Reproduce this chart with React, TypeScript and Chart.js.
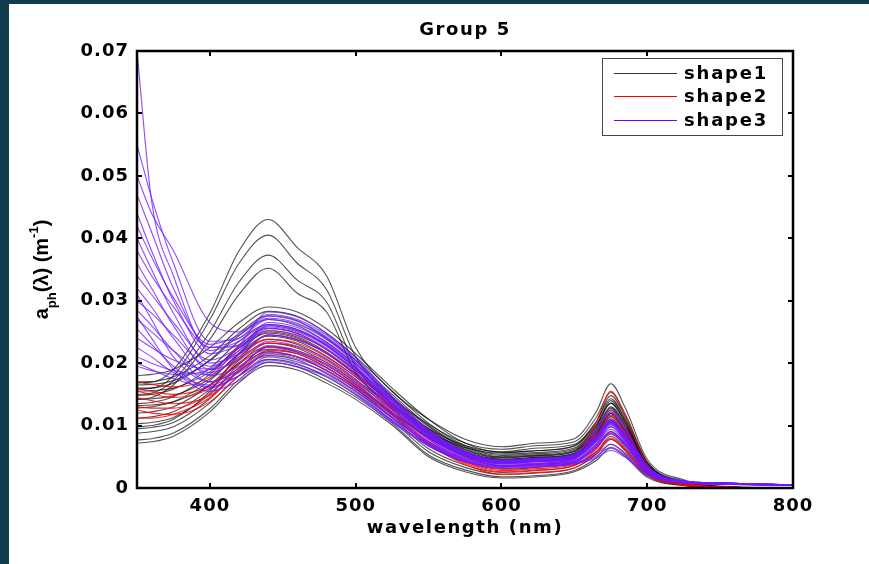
import React, { useEffect, useRef } from 'react';
import { Chart, registerables } from 'chart.js';

Chart.register(...registerables);

// wavelength grid (nm)
const wavelengths = [350, 360, 375, 400, 420, 440, 460, 480, 500, 525, 550, 575, 600, 625, 650, 665, 675, 685, 700, 725, 750, 800];

// shape1 (black) spectra
const shape1Curves: number[][] = [
  [0.017, 0.017, 0.019, 0.028, 0.038, 0.043, 0.0385, 0.034, 0.0225, 0.0155, 0.011, 0.0078, 0.0066, 0.0072, 0.0079, 0.0122, 0.0167, 0.0128, 0.0046, 0.0013, 0.0003, 0],
  [0.016, 0.016, 0.018, 0.027, 0.036, 0.0405, 0.036, 0.0318, 0.021, 0.0145, 0.0102, 0.0072, 0.0062, 0.0068, 0.0074, 0.0113, 0.0153, 0.0118, 0.0042, 0.0011, 0.0002, 0],
  [0.015, 0.0152, 0.0172, 0.025, 0.033, 0.0373, 0.0333, 0.0298, 0.0195, 0.0135, 0.0095, 0.0068, 0.0058, 0.0064, 0.007, 0.0106, 0.0143, 0.011, 0.0039, 0.001, 0.0002, 0],
  [0.0142, 0.0145, 0.0165, 0.0238, 0.031, 0.0352, 0.0312, 0.0282, 0.0185, 0.013, 0.009, 0.0065, 0.0056, 0.006, 0.0067, 0.0101, 0.0136, 0.0104, 0.0037, 0.0009, 0.0002, 0],
  [0.018, 0.0182, 0.019, 0.0225, 0.0265, 0.029, 0.0282, 0.0255, 0.0215, 0.016, 0.011, 0.0072, 0.0057, 0.006, 0.0068, 0.0105, 0.0148, 0.0114, 0.0041, 0.0009, 0.0002, 0],
  [0.0168, 0.017, 0.0178, 0.0212, 0.0255, 0.0283, 0.0275, 0.0248, 0.021, 0.0155, 0.0104, 0.0068, 0.0054, 0.0057, 0.0064, 0.0099, 0.014, 0.0108, 0.0039, 0.0008, 0.0002, 0],
  [0.0158, 0.016, 0.0168, 0.0205, 0.0248, 0.0276, 0.0268, 0.024, 0.0204, 0.015, 0.01, 0.0066, 0.0052, 0.0055, 0.0062, 0.0097, 0.0136, 0.0105, 0.0038, 0.0008, 0.0002, 0],
  [0.0165, 0.0166, 0.0172, 0.0204, 0.0244, 0.027, 0.026, 0.0234, 0.0198, 0.0146, 0.0098, 0.0064, 0.005, 0.0053, 0.006, 0.0094, 0.013, 0.0101, 0.0036, 0.0008, 0.0002, 0],
  [0.0148, 0.015, 0.0158, 0.0192, 0.0235, 0.0262, 0.0254, 0.0228, 0.0192, 0.0143, 0.0095, 0.0062, 0.0049, 0.0052, 0.0059, 0.0092, 0.0128, 0.0099, 0.0036, 0.0008, 0.0002, 0],
  [0.0135, 0.0137, 0.0146, 0.0182, 0.0228, 0.0256, 0.0248, 0.0222, 0.0188, 0.014, 0.0093, 0.0061, 0.0048, 0.0051, 0.0058, 0.009, 0.0125, 0.0097, 0.0035, 0.0007, 0.0001, 0],
  [0.0155, 0.0156, 0.016, 0.0186, 0.0224, 0.0248, 0.024, 0.0216, 0.0182, 0.0135, 0.009, 0.0059, 0.0046, 0.0049, 0.0056, 0.0087, 0.012, 0.0093, 0.0034, 0.0007, 0.0001, 0],
  [0.0128, 0.013, 0.0138, 0.0172, 0.0216, 0.0243, 0.0235, 0.0211, 0.0178, 0.0132, 0.0088, 0.0057, 0.0045, 0.0048, 0.0054, 0.0084, 0.0117, 0.0091, 0.0033, 0.0007, 0.0001, 0],
  [0.0142, 0.0143, 0.0148, 0.0175, 0.0214, 0.0238, 0.023, 0.0206, 0.0174, 0.0129, 0.0086, 0.0056, 0.0044, 0.0047, 0.0053, 0.0082, 0.0114, 0.0089, 0.0032, 0.0007, 0.0001, 0],
  [0.012, 0.0122, 0.013, 0.0165, 0.0207, 0.0232, 0.0224, 0.0201, 0.017, 0.0126, 0.0083, 0.0054, 0.0043, 0.0045, 0.0052, 0.0081, 0.0111, 0.0086, 0.0031, 0.0006, 0.0001, 0],
  [0.0112, 0.0114, 0.0122, 0.0158, 0.0201, 0.0226, 0.0218, 0.0196, 0.0166, 0.0122, 0.0081, 0.0052, 0.0041, 0.0044, 0.005, 0.0078, 0.0108, 0.0084, 0.003, 0.0006, 0.0001, 0],
  [0.0132, 0.0133, 0.0138, 0.0164, 0.0199, 0.0222, 0.0215, 0.0193, 0.0163, 0.012, 0.008, 0.0051, 0.004, 0.0043, 0.0049, 0.0077, 0.0106, 0.0082, 0.003, 0.0006, 0.0001, 0],
  [0.0103, 0.0105, 0.0113, 0.015, 0.0193, 0.0218, 0.021, 0.0188, 0.0159, 0.0117, 0.0068, 0.0042, 0.003, 0.0033, 0.0041, 0.0064, 0.009, 0.007, 0.0025, 0.0006, 0.0001, 0],
  [0.0095, 0.0097, 0.0105, 0.0143, 0.0187, 0.0212, 0.0205, 0.0183, 0.0155, 0.0112, 0.0063, 0.0037, 0.0025, 0.0028, 0.0036, 0.0058, 0.0083, 0.0064, 0.0023, 0.0005, 0.0001, 0],
  [0.0088, 0.009, 0.0098, 0.0136, 0.018, 0.0206, 0.0199, 0.0178, 0.015, 0.0108, 0.0058, 0.0033, 0.0022, 0.0024, 0.0032, 0.0054, 0.0078, 0.006, 0.0021, 0.0005, 0.0001, 0],
  [0.0077, 0.0079, 0.0088, 0.0127, 0.0174, 0.0201, 0.0194, 0.0173, 0.0146, 0.0104, 0.0053, 0.0029, 0.0018, 0.002, 0.0028, 0.0048, 0.007, 0.0054, 0.0019, 0.0004, 0.0001, 0],
  [0.0072, 0.0074, 0.0083, 0.0122, 0.0169, 0.0196, 0.0189, 0.0168, 0.0142, 0.0101, 0.005, 0.0026, 0.0016, 0.0018, 0.0026, 0.0044, 0.0064, 0.005, 0.0017, 0.0004, 0.0001, 0],
  [0.0098, 0.01, 0.011, 0.0155, 0.0215, 0.025, 0.0242, 0.0218, 0.0184, 0.0136, 0.009, 0.0058, 0.0046, 0.0049, 0.0055, 0.0086, 0.0119, 0.0092, 0.0033, 0.0007, 0.0001, 0],
];

// shape2 (red) spectra
const shape2Curves: number[][] = [
  [0.017, 0.0166, 0.0162, 0.0178, 0.0225, 0.0252, 0.0245, 0.0222, 0.0188, 0.014, 0.0092, 0.0055, 0.004, 0.0043, 0.0052, 0.0105, 0.0155, 0.0115, 0.0038, 0.0008, 0.0002, 0],
  [0.016, 0.0155, 0.015, 0.0165, 0.021, 0.0238, 0.0232, 0.021, 0.0178, 0.013, 0.0085, 0.005, 0.0035, 0.0038, 0.0046, 0.0088, 0.0122, 0.0093, 0.0031, 0.0007, 0.0002, 0],
  [0.013, 0.0128, 0.0128, 0.0152, 0.0198, 0.0232, 0.0226, 0.0204, 0.0172, 0.0125, 0.0078, 0.0045, 0.0031, 0.0034, 0.0042, 0.007, 0.0098, 0.0075, 0.0026, 0.0006, 0.0001, 0],
  [0.0112, 0.0112, 0.0118, 0.0145, 0.019, 0.0226, 0.022, 0.0198, 0.0165, 0.012, 0.0074, 0.0042, 0.0028, 0.0031, 0.0038, 0.0058, 0.008, 0.0062, 0.0022, 0.0005, 0.0001, 0],
  [0.0145, 0.014, 0.0135, 0.0148, 0.0188, 0.022, 0.0215, 0.0193, 0.0162, 0.0118, 0.0072, 0.004, 0.0026, 0.0029, 0.0036, 0.0062, 0.0088, 0.0068, 0.0024, 0.0005, 0.0001, 0],
  [0.0125, 0.012, 0.0118, 0.0138, 0.018, 0.0215, 0.021, 0.0188, 0.0158, 0.0114, 0.007, 0.0038, 0.0022, 0.0025, 0.0032, 0.0055, 0.0078, 0.006, 0.0021, 0.0005, 0.0001, 0],
  [0.0155, 0.015, 0.0145, 0.016, 0.0205, 0.0245, 0.0238, 0.0215, 0.0182, 0.0134, 0.0088, 0.0052, 0.0036, 0.0039, 0.0048, 0.0082, 0.0115, 0.0088, 0.003, 0.0007, 0.0002, 0],
];

// shape3 (purple) spectra
const shape3Curves: number[][] = [
  [0.07, 0.046, 0.034, 0.022, 0.0235, 0.0262, 0.0254, 0.0231, 0.0194, 0.0136, 0.0086, 0.0055, 0.0042, 0.0045, 0.005, 0.0079, 0.0105, 0.0081, 0.0031, 0.001, 0.0008, 0.0005],
  [0.055, 0.0465, 0.036, 0.0235, 0.024, 0.027, 0.0262, 0.0238, 0.02, 0.014, 0.0089, 0.0057, 0.0043, 0.0046, 0.0051, 0.0081, 0.0108, 0.0084, 0.0032, 0.0011, 0.0008, 0.0005],
  [0.05, 0.044, 0.038, 0.0265, 0.025, 0.0275, 0.0267, 0.0242, 0.0204, 0.0143, 0.0091, 0.0058, 0.0044, 0.0047, 0.0052, 0.0083, 0.011, 0.0085, 0.0033, 0.0011, 0.0008, 0.0005],
  [0.047, 0.041, 0.032, 0.0225, 0.0228, 0.0255, 0.0247, 0.0224, 0.0189, 0.0133, 0.0084, 0.0054, 0.0041, 0.0043, 0.0048, 0.0077, 0.0102, 0.0079, 0.0031, 0.001, 0.0008, 0.0005],
  [0.044, 0.038, 0.03, 0.0215, 0.023, 0.026, 0.0252, 0.0229, 0.0192, 0.0135, 0.0086, 0.0055, 0.0042, 0.0044, 0.0049, 0.0078, 0.0104, 0.0081, 0.0031, 0.001, 0.0008, 0.0005],
  [0.042, 0.037, 0.0305, 0.023, 0.0245, 0.0278, 0.027, 0.0245, 0.0206, 0.0145, 0.0092, 0.0058, 0.0044, 0.0047, 0.0053, 0.009, 0.012, 0.0092, 0.0035, 0.0011, 0.0008, 0.0005],
  [0.04, 0.035, 0.028, 0.02, 0.0215, 0.0245, 0.0237, 0.0216, 0.0181, 0.0127, 0.0081, 0.0051, 0.0039, 0.0042, 0.0047, 0.0074, 0.0098, 0.0076, 0.0029, 0.001, 0.0007, 0.0005],
  [0.038, 0.034, 0.029, 0.0225, 0.024, 0.0272, 0.0264, 0.0239, 0.0201, 0.0141, 0.009, 0.0057, 0.0044, 0.0046, 0.0052, 0.0082, 0.0109, 0.0084, 0.0033, 0.0011, 0.0008, 0.0005],
  [0.036, 0.032, 0.026, 0.019, 0.0205, 0.0235, 0.0227, 0.0207, 0.0174, 0.0122, 0.0078, 0.0049, 0.0038, 0.004, 0.0045, 0.0071, 0.0094, 0.0073, 0.0028, 0.0009, 0.0007, 0.0004],
  [0.034, 0.031, 0.0265, 0.0205, 0.0225, 0.0258, 0.025, 0.0227, 0.0191, 0.0134, 0.0085, 0.0054, 0.0041, 0.0044, 0.0049, 0.0077, 0.0103, 0.008, 0.0031, 0.001, 0.0008, 0.0005],
  [0.032, 0.029, 0.024, 0.018, 0.0195, 0.0225, 0.0217, 0.0198, 0.0167, 0.0117, 0.0074, 0.0047, 0.0036, 0.0038, 0.0043, 0.0068, 0.009, 0.007, 0.0027, 0.0009, 0.0007, 0.0004],
  [0.03, 0.028, 0.0245, 0.0195, 0.022, 0.0252, 0.0244, 0.0222, 0.0186, 0.0131, 0.0083, 0.0053, 0.004, 0.0043, 0.0048, 0.0076, 0.0101, 0.0078, 0.003, 0.001, 0.0008, 0.0005],
  [0.0285, 0.026, 0.022, 0.017, 0.0188, 0.0218, 0.021, 0.0192, 0.0161, 0.0113, 0.0072, 0.0046, 0.0035, 0.0037, 0.0041, 0.0065, 0.0087, 0.0068, 0.0026, 0.0009, 0.0007, 0.0004],
  [0.027, 0.025, 0.022, 0.0185, 0.021, 0.0245, 0.0237, 0.0216, 0.0181, 0.0127, 0.0081, 0.0051, 0.0039, 0.0042, 0.0047, 0.0074, 0.0098, 0.0076, 0.0029, 0.001, 0.0007, 0.0005],
  [0.0255, 0.023, 0.0195, 0.016, 0.018, 0.021, 0.0202, 0.0185, 0.0155, 0.0109, 0.0069, 0.0044, 0.0034, 0.0036, 0.004, 0.0054, 0.007, 0.0056, 0.0023, 0.0008, 0.0006, 0.0004],
  [0.024, 0.0225, 0.0205, 0.019, 0.022, 0.0265, 0.0257, 0.0233, 0.0196, 0.0138, 0.0087, 0.0056, 0.0042, 0.0045, 0.005, 0.008, 0.0106, 0.0082, 0.0032, 0.0011, 0.0008, 0.0005],
  [0.0225, 0.021, 0.0185, 0.0165, 0.0185, 0.0215, 0.0207, 0.0189, 0.0159, 0.0112, 0.0071, 0.0045, 0.0034, 0.0037, 0.0041, 0.0065, 0.0086, 0.0067, 0.0026, 0.0009, 0.0007, 0.0004],
  [0.021, 0.02, 0.0188, 0.0182, 0.0215, 0.026, 0.0252, 0.0229, 0.0192, 0.0135, 0.0086, 0.0055, 0.0042, 0.0044, 0.0049, 0.0078, 0.0104, 0.0081, 0.0031, 0.001, 0.0008, 0.0005],
  [0.02, 0.019, 0.0175, 0.0162, 0.018, 0.0205, 0.0197, 0.018, 0.0152, 0.0107, 0.0068, 0.0043, 0.0033, 0.0035, 0.0039, 0.0051, 0.0065, 0.0052, 0.0022, 0.0008, 0.0006, 0.0004],
  [0.0275, 0.024, 0.019, 0.0155, 0.0172, 0.0202, 0.0194, 0.0178, 0.0149, 0.0105, 0.0067, 0.0042, 0.0032, 0.0034, 0.0038, 0.0048, 0.006, 0.0049, 0.0021, 0.0008, 0.0006, 0.0004],
  [0.031, 0.027, 0.021, 0.017, 0.0192, 0.0228, 0.022, 0.0201, 0.0169, 0.0119, 0.0075, 0.0048, 0.0036, 0.0039, 0.0043, 0.0068, 0.0091, 0.0071, 0.0027, 0.0009, 0.0007, 0.0004],
  [0.0195, 0.0188, 0.0182, 0.019, 0.0228, 0.0282, 0.0274, 0.0248, 0.0209, 0.0147, 0.0093, 0.0059, 0.0045, 0.0048, 0.0054, 0.0094, 0.0125, 0.0096, 0.0036, 0.0011, 0.0008, 0.0005],
];

const seriesNames = ['shape1', 'shape2', 'shape3'];
const seriesLineColors = ['rgba(0,0,0,0.68)', 'rgba(255,0,0,0.85)', 'rgba(112,24,255,0.78)'];
const legendColors = ['#333333', '#ff0000', '#7000ff'];
const xTickValues = [400, 500, 600, 700, 800];
const chartTitle = 'Group 5';
const xAxisTitle = 'wavelength (nm)';

const TICK_FONT = { family: 'DejaVu Sans', size: 18, weight: 'bold' as const };

const decorPlugin = {
  id: 'decor',
  beforeDraw(chart: any) {
    const ctx = chart.ctx;
    ctx.save();
    ctx.fillStyle = '#ffffff';
    ctx.fillRect(0, 0, chart.width, chart.height);
    ctx.restore();
    (ctx as any).letterSpacing = '1px';
  },
  afterDatasetsDraw(chart: any) {
    const { ctx, chartArea: a, scales } = chart;
    ctx.save();
    ctx.strokeStyle = '#000';
    ctx.lineWidth = 2;
    const tl = 5;
    scales.x.ticks.forEach((t: any) => {
      const px = Math.round(scales.x.getPixelForValue(t.value));
      ctx.beginPath();
      ctx.moveTo(px, a.bottom);
      ctx.lineTo(px, a.bottom - tl);
      ctx.moveTo(px, a.top);
      ctx.lineTo(px, a.top + tl);
      ctx.stroke();
    });
    scales.y.ticks.forEach((t: any) => {
      const py = Math.round(scales.y.getPixelForValue(t.value));
      ctx.beginPath();
      ctx.moveTo(a.left, py);
      ctx.lineTo(a.left + tl, py);
      ctx.moveTo(a.right, py);
      ctx.lineTo(a.right - tl, py);
      ctx.stroke();
    });
    ctx.lineWidth = 2.5;
    ctx.strokeRect(a.left, a.top, a.right - a.left, a.bottom - a.top);
    ctx.restore();
  },
  afterDraw(chart: any) {
    const { ctx, chartArea: a } = chart;
    const cx = (a.left + a.right) / 2;
    ctx.save();
    ctx.fillStyle = '#000';
    (ctx as any).letterSpacing = '1.6px';
    ctx.font = 'bold 18px "DejaVu Sans"';
    ctx.textAlign = 'center';
    ctx.textBaseline = 'alphabetic';
    ctx.fillText(chartTitle, cx, 31);
    ctx.fillText(xAxisTitle, cx, 529);

    // y-axis label with subscript / superscript
    (ctx as any).letterSpacing = '0px';
    const main = 'bold 20px "Liberation Sans"';
    const small = 'bold 13px "Liberation Sans"';
    const parts = [
      { t: 'a', f: main, dy: 0 },
      { t: 'ph', f: small, dy: 8 },
      { t: '(\u03bb) (m', f: main, dy: 0 },
      { t: '-1', f: small, dy: -10 },
      { t: ')', f: main, dy: 0 },
    ];
    let total = 0;
    parts.forEach((p) => { ctx.font = p.f; total += ctx.measureText(p.t).width; });
    ctx.save();
    ctx.translate(39, (a.top + a.bottom) / 2);
    ctx.rotate(-Math.PI / 2);
    ctx.textAlign = 'left';
    let x = -total / 2;
    parts.forEach((p) => {
      ctx.font = p.f;
      ctx.fillText(p.t, x, p.dy);
      x += ctx.measureText(p.t).width;
    });
    ctx.restore();

    // legend
    const bx = 593, by = 54, bw = 180, bh = 77;
    ctx.fillStyle = '#fff';
    ctx.fillRect(bx, by, bw, bh);
    ctx.strokeStyle = '#444';
    ctx.lineWidth = 1;
    ctx.strokeRect(bx + 0.5, by + 0.5, bw, bh);
    const rows = [69, 92, 116];
    ctx.font = 'bold 18px "DejaVu Sans"';
    (ctx as any).letterSpacing = '1.8px';
    ctx.textAlign = 'left';
    ctx.textBaseline = 'middle';
    seriesNames.forEach((name, i) => {
      ctx.strokeStyle = legendColors[i];
      ctx.lineWidth = 1.2;
      ctx.beginPath();
      ctx.moveTo(605, rows[i] + 0.5);
      ctx.lineTo(668, rows[i] + 0.5);
      ctx.stroke();
      ctx.fillStyle = '#000';
      ctx.fillText(name, 675, rows[i] + 1);
    });
    ctx.restore();
  },
};

export default function App() {
  const ref = useRef<HTMLCanvasElement | null>(null);
  useEffect(() => {
    if (!ref.current) return;
    const toPts = (ys: number[]) => wavelengths.map((x, i) => ({ x, y: ys[i] }));
    const groups = [shape1Curves, shape2Curves, shape3Curves];
    const orders = [2, 1, 0];
    const datasets: any[] = [];
    groups.forEach((g, gi) => {
      g.forEach((ys, k) => {
        datasets.push({
          label: seriesNames[gi] + '_' + k,
          data: toPts(ys),
          borderColor: seriesLineColors[gi],
          borderWidth: 1.1,
          pointRadius: 0,
          fill: false,
          cubicInterpolationMode: 'monotone',
          order: orders[gi],
        });
      });
    });
    const chart = new Chart(ref.current, {
      type: 'line',
      data: { datasets },
      options: {
        animation: false,
        responsive: false,
        devicePixelRatio: 1,
        layout: { padding: { left: 0, right: 76, top: 47, bottom: 0 } },
        plugins: {
          legend: { display: false },
          tooltip: { enabled: false },
          title: { display: false },
        },
        scales: {
          x: {
            type: 'linear',
            min: 350,
            max: 800,
            grid: { display: false, drawTicks: false },
            border: { display: false },
            afterBuildTicks: (scale: any) => {
              scale.ticks = xTickValues.map((v) => ({ value: v }));
            },
            afterFit: (scale: any) => { scale.height = 76; },
            ticks: {
              color: '#000',
              font: TICK_FONT,
              padding: 8,
              maxRotation: 0,
              autoSkip: false,
              callback: (v: any) => String(v),
            },
          },
          y: {
            type: 'linear',
            min: 0,
            max: 0.07,
            grid: { display: false, drawTicks: false },
            border: { display: false },
            afterFit: (scale: any) => { scale.width = 128; },
            ticks: {
              color: '#000',
              font: TICK_FONT,
              padding: 8,
              stepSize: 0.01,
              autoSkip: false,
              callback: (v: any) => (Math.abs(v) < 1e-9 ? '0' : Number(v).toFixed(2)),
            },
          },
        },
      },
      plugins: [decorPlugin],
    });
    return () => chart.destroy();
  }, []);

  return (
    <div style={{ position: 'fixed', left: 0, top: 0, width: 869, height: 564, background: '#113c50', overflow: 'hidden' }}>
      <canvas ref={ref} width={860} height={560} style={{ position: 'absolute', left: 9, top: 4, width: 860, height: 560, background: '#fff' }} />
    </div>
  );
}
